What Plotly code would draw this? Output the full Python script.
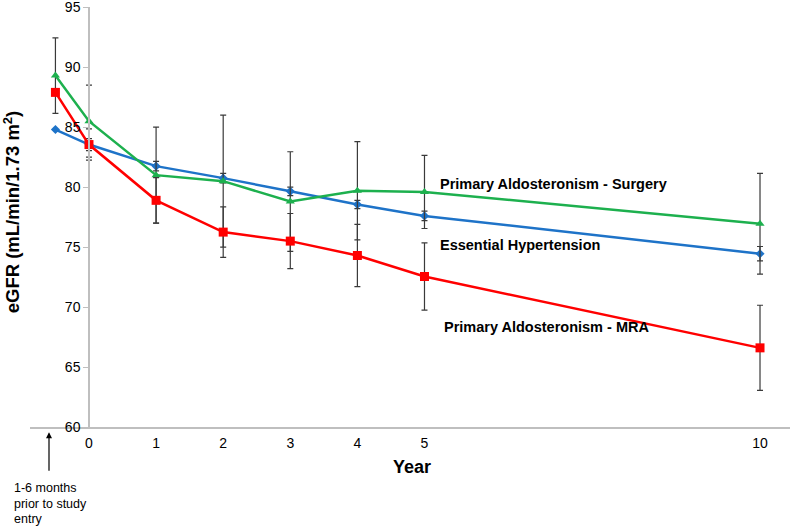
import plotly.graph_objects as go

# ---- data ----
years = [-0.5, 0, 1, 2, 3, 4, 5, 10]
tick_vals = [0, 1, 2, 3, 4, 5, 10]
tick_text = ["0", "1", "2", "3", "4", "5", "10"]
y_ticks = [60, 65, 70, 75, 80, 85, 90, 95]

eh_vals = [84.8, 83.55, 81.75, 80.75, 79.65, 78.55, 77.6, 74.45]
eh_err = [0, 0.5, 0.4, 0.4, 0.35, 0.35, 0.4, 0.6]

surg_vals = [89.3, 85.5, 81.0, 80.5, 78.8, 79.7, 79.6, 76.95]
surg_err = [3.15, 3.0, 4.0, 5.5, 4.15, 4.1, 3.05, 4.2]

mra_vals = [87.9, 83.55, 78.9, 76.25, 75.5, 74.3, 72.55, 66.6]
mra_err = [0, 1.3, 1.9, 2.1, 2.3, 2.6, 2.8, 3.55]

label_surg = "Primary Aldosteronism - Surgery"
label_eh = "Essential Hypertension"
label_mra = "Primary Aldosteronism - MRA"
note_lines = ["1-6 months", "prior to study", "entry"]

FONT = "Liberation Sans, Arial, sans-serif"

fig = go.Figure()

def add_series(y, err, color, symbol, size, name):
    fig.add_trace(go.Scatter(
        x=years, y=y, mode="lines+markers", name=name,
        line=dict(color=color, width=2.5),
        marker=dict(symbol=symbol, size=size, color=color),
        error_y=dict(type="data", array=err, visible=True,
                     color="#3A3A3A", thickness=1.2, width=3),
        showlegend=False,
    ))

add_series(eh_vals, eh_err, "#1E73C8", "diamond", 7, label_eh)
add_series(surg_vals, surg_err, "#1DB04E", "triangle-up", 8, label_surg)
add_series(mra_vals, mra_err, "#FF0000", "square", 9, label_mra)

xmin, xmax = -0.879, 10.447
ypos = (0 - xmin) / (xmax - xmin)

fig.update_layout(
    width=800, height=526,
    margin=dict(l=30, r=10, t=7, b=99),
    paper_bgcolor="white", plot_bgcolor="white",
    font=dict(family=FONT, color="black"),
    xaxis=dict(range=[xmin, xmax], tickvals=tick_vals, ticktext=tick_text,
               showgrid=False, zeroline=False, showline=True, automargin=False,
               linecolor="#BFBFBF", linewidth=1.5, ticks="",
               tickfont=dict(size=14, color="black"), ticklabelstandoff=2),
    yaxis=dict(range=[60, 95.02], tickvals=y_ticks, anchor="free", position=ypos,
               showgrid=False, zeroline=False, showline=True, automargin=False,
               linecolor="#BFBFBF", linewidth=1.5, ticks="outside",
               ticklen=5, tickcolor="#BFBFBF", ticklabeloverflow="allow",
               tickfont=dict(size=14, color="black")),
)

ann = []
for txt, xv, yv in [(label_surg, 5.2, 80.3), (label_eh, 5.2, 75.15), (label_mra, 5.26, 68.35)]:
    ann.append(dict(x=xv, y=yv, xref="x", yref="y", text="<b>" + txt + "</b>",
                    showarrow=False, xanchor="left", yanchor="middle",
                    font=dict(size=14.5, family=FONT)))
# y-axis title
ann.append(dict(x=(12 - 30) / 760, y=(426.7 - 212) / 420, xref="paper", yref="paper",
                text="<b>eGFR (mL/min/1.73 m<sup>2</sup>)</b>", textangle=-90,
                showarrow=False, xanchor="center", yanchor="middle",
                font=dict(size=18.5, family=FONT)))
# x-axis title
ann.append(dict(x=(412 - 30) / 760, y=(426.7 - 467) / 420, xref="paper", yref="paper",
                text="<b>Year</b>", showarrow=False, xanchor="center", yanchor="middle",
                font=dict(size=18, family=FONT)))
# arrow
ann.append(dict(x=(49 - 30) / 760, y=(426.7 - 432) / 420, xref="paper", yref="paper",
                text="", showarrow=True, ax=0, ay=40, arrowhead=2, arrowsize=1,
                arrowwidth=1.2, arrowcolor="black"))
# note lines
for i, line in enumerate(note_lines):
    ann.append(dict(x=(12 - 30) / 760, y=(426.7 - (488 + 15.5 * i)) / 420,
                    xref="paper", yref="paper", text=line, showarrow=False,
                    xanchor="left", yanchor="middle", align="left",
                    font=dict(size=12.5, family=FONT)))

fig.update_layout(annotations=ann)

fig.write_html("out.html", post_script="document.body.style.margin='0';",
               config={"displayModeBar": False})
